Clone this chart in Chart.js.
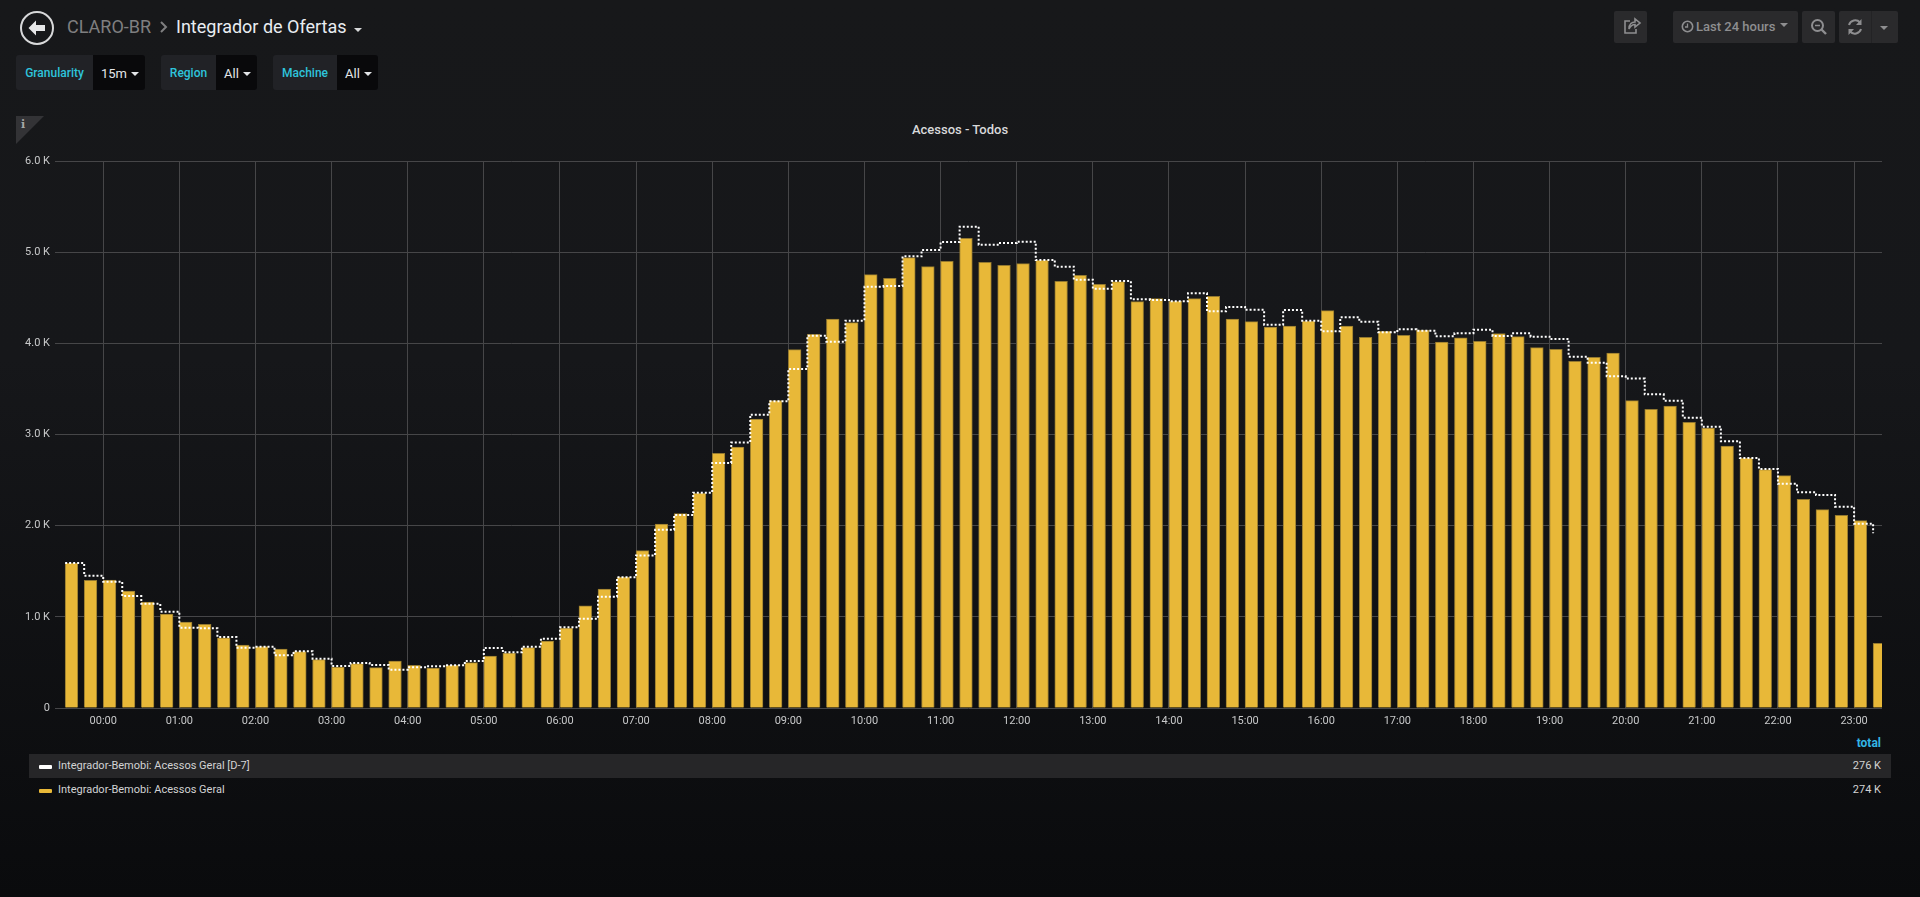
<!DOCTYPE html>
<html>
<head>
<meta charset="utf-8">
<title>Integrador de Ofertas</title>
<script src="https://cdn.jsdelivr.net/npm/chart.js@4"></script>
<style>
    html, body { margin: 0; height: 100%; overflow: hidden; }
    body {
        position: relative;
        width: 1920px;
        height: 897px;
        font-family: Roboto, sans-serif;
        background: linear-gradient(to bottom, #17181a 0, #16171a 40%, #0a0b0d 100%);
    }
    .abs { position: absolute; }
    .crumb { top: 14px; font-size: 18px; line-height: 26px; white-space: nowrap; }
    .var-label, .var-value {
        position: absolute; top: 55px; height: 35px; line-height: 37px;
        box-sizing: border-box; white-space: nowrap;
    }
    .var-label { background: #212226; color: #2ec4dc; font-size: 12px; font-weight: 500; text-align: center; border-radius: 3px 0 0 3px; }
    .var-value { background: #09090b; color: #e3e5e8; font-size: 13px; padding-left: 8px; border-radius: 0 3px 3px 0; }
    .caret { display: inline-block; border: 4px solid transparent; border-top-color: currentColor; border-bottom: 0; margin-left: 4px; vertical-align: 2px; }
    .btn { position: absolute; top: 11px; height: 32px; background: #2a2a2c; border-radius: 2px; color: #8e8e90; box-sizing: border-box; }
    .legend-row { position: absolute; left: 29px; width: 1862px; height: 24px; line-height: 23px; font-size: 11px; color: #d2d3d4; }
    .legend-row .swatch { position: absolute; left: 10px; top: 11px; width: 13px; height: 4px; border-radius: 1px; }
    .legend-row .name { position: absolute; left: 29px; white-space: nowrap; }
    .legend-row .val { position: absolute; right: 10px; }
    #chart-wrap { position: absolute; left: 0; top: 115px; width: 1920px; height: 620px; }
    #panel-title { position: absolute; left: 0; top: 122px; width: 1920px; text-align: center; font-size: 13px; line-height: 16px; font-weight: 500; color: #d8d9da; }
</style>
</head>
<body>

<!-- header -->
<svg class="abs" style="left:19px;top:10px" width="36" height="36" viewBox="0 0 36 36">
    <circle cx="18" cy="18" r="16" fill="none" stroke="#d8d9da" stroke-width="2"/>
    <path d="M9.5 18 L17 10.5 L17 15 L26 15 L26 21 L17 21 L17 25.5 Z" fill="#e6e7e8"/>
</svg>
<div class="abs crumb" style="left:67px;color:#7f7f80">CLARO-BR</div>
<svg class="abs" style="left:159px;top:20px" width="10" height="14" viewBox="0 0 10 14">
    <path d="M2 2 L7 7 L2 12" fill="none" stroke="#7f7f80" stroke-width="2"/>
</svg>
<div class="abs crumb" style="left:176px;color:#e9edf2">Integrador de Ofertas</div>
<div class="abs" style="left:354px;top:28px;border:4px solid transparent;border-top-color:#d8d9da;border-bottom:0"></div>

<!-- template variables -->
<div class="var-label" style="left:16px;width:77px">Granularity</div>
<div class="var-value" style="left:93px;width:52px">15m<span class="caret"></span></div>
<div class="var-label" style="left:161px;width:55px">Region</div>
<div class="var-value" style="left:216px;width:41px">All<span class="caret"></span></div>
<div class="var-label" style="left:273px;width:64px">Machine</div>
<div class="var-value" style="left:337px;width:41px">All<span class="caret"></span></div>

<!-- toolbar -->
<div class="btn" style="left:1614px;width:33px">
    <svg width="33" height="32" viewBox="0 0 33 32"><path d="M16 10 H11 V22 H22 V18 M15 18 C15 13 18 11 21 11 V8 L26 12 L21 16 V13.5 C18.5 13.5 16.5 15 15 18 Z" fill="none" stroke="#8e8e90" stroke-width="1.6"/></svg>
</div>
<div class="btn" style="left:1673px;width:125px;font-size:13px;font-weight:500;line-height:31px">
    <svg class="abs" style="left:8px;top:9px" width="13" height="13" viewBox="0 0 13 13"><circle cx="6.5" cy="6.5" r="5.2" fill="none" stroke="#8e8e90" stroke-width="1.6"/><path d="M6.5 3.5 V7 H4" fill="none" stroke="#8e8e90" stroke-width="1.3"/></svg>
    <span class="abs" style="left:23px;white-space:nowrap">Last 24 hours</span>
    <span class="abs" style="left:107px;top:12px;border:4px solid transparent;border-top-color:#8e8e90;border-bottom:0"></span>
</div>
<div class="btn" style="left:1802px;width:33px">
    <svg width="33" height="32" viewBox="0 0 33 32"><circle cx="15.5" cy="14.5" r="5.5" fill="none" stroke="#8e8e90" stroke-width="2"/><path d="M19.5 18.5 L24 23" stroke="#8e8e90" stroke-width="2.4"/><path d="M13 14.5 H18" stroke="#8e8e90" stroke-width="1.5"/></svg>
</div>
<div class="btn" style="left:1839px;width:59px">
    <svg class="abs" style="left:0;top:0" width="32" height="32" viewBox="0 0 32 32"><path d="M10 14 A6.5 6.5 0 0 1 21 11.5 M22 18 A6.5 6.5 0 0 1 11 20.5" fill="none" stroke="#8e8e90" stroke-width="2"/><path d="M22.5 8 V14 H17 Z M9.5 24 V18 H15 Z" fill="#8e8e90"/></svg>
    <span class="abs" style="left:32px;top:0;width:1px;height:32px;background:#232325"></span>
    <span class="abs" style="left:41px;top:15px;border:4px solid transparent;border-top-color:#8e8e90;border-bottom:0"></span>
</div>

<!-- panel info corner -->
<svg class="abs" style="left:16px;top:116px" width="28" height="28"><path d="M0 0 H28 L0 28 Z" fill="#333336"/></svg>
<div class="abs" style="left:21px;top:118px;font:bold 11px 'DejaVu Serif',serif;color:#a8a8a8">i</div>

<div id="panel-title">Acessos - Todos</div>
<div id="chart-wrap"><canvas id="graph-1" width="1920" height="620"></canvas></div>

<!-- legend -->
<div class="abs" style="right:39px;top:736px;font-size:12px;font-weight:700;color:#33b5e5">total</div>
<div id="legend"></div>

<script>
const slotLabels = [
    "23:30", "23:45",
    "00:00", "00:15", "00:30", "00:45", "01:00", "01:15", "01:30", "01:45",
    "02:00", "02:15", "02:30", "02:45", "03:00", "03:15", "03:30", "03:45",
    "04:00", "04:15", "04:30", "04:45", "05:00", "05:15", "05:30", "05:45",
    "06:00", "06:15", "06:30", "06:45", "07:00", "07:15", "07:30", "07:45",
    "08:00", "08:15", "08:30", "08:45", "09:00", "09:15", "09:30", "09:45",
    "10:00", "10:15", "10:30", "10:45", "11:00", "11:15", "11:30", "11:45",
    "12:00", "12:15", "12:30", "12:45", "13:00", "13:15", "13:30", "13:45",
    "14:00", "14:15", "14:30", "14:45", "15:00", "15:15", "15:30", "15:45",
    "16:00", "16:15", "16:30", "16:45", "17:00", "17:15", "17:30", "17:45",
    "18:00", "18:15", "18:30", "18:45", "19:00", "19:15", "19:30", "19:45",
    "20:00", "20:15", "20:30", "20:45", "21:00", "21:15", "21:30", "21:45",
    "22:00", "22:15", "22:30", "22:45", "23:00", "23:15"
];

const acessosGeral = [
    1590, 1400, 1404, 1283, 1163, 1031, 943, 918, 771, 691,
    673, 647, 618, 530, 450, 486, 442, 515, 468, 439,
    468, 497, 570, 603, 662, 735, 877, 1122, 1305, 1437,
    1726, 2018, 2132, 2355, 2794, 2863, 3170, 3371, 3931, 4099,
    4267, 4227, 4753, 4713, 4940, 4841, 4900, 5152, 4889, 4856,
    4874, 4911, 4680, 4746, 4647, 4676, 4457, 4490, 4461, 4490,
    4516, 4267, 4238, 4179, 4190, 4245, 4358, 4190, 4066, 4132,
    4088, 4146, 4015, 4059, 4022, 4106, 4073, 3953, 3934, 3803,
    3847, 3894, 3371, 3276, 3313, 3134, 3071, 2874, 2742, 2614,
    2549, 2289, 2176, 2113, 2055, 709
];

const acessosGeralD7 = [
    1590, 1451, 1386, 1228, 1144, 1057, 881, 874, 779, 662,
    673, 578, 622, 541, 461, 494, 472, 420, 446, 457,
    468, 515, 658, 611, 673, 760, 885, 980, 1221, 1433,
    1674, 1956, 2117, 2362, 2688, 2911, 3218, 3364, 3719, 4084,
    4018, 4249, 4622, 4629, 4954, 5024, 5112, 5280, 5082, 5101,
    5115, 4914, 4841, 4698, 4600, 4684, 4483, 4475, 4461, 4549,
    4351, 4399, 4369, 4205, 4366, 4249, 4132, 4285, 4238, 4121,
    4154, 4139, 4077, 4110, 4150, 4081, 4110, 4073, 4048, 3854,
    3788, 3638, 3613, 3441, 3371, 3185, 3086, 2925, 2742, 2622,
    2461, 2366, 2336, 2208, 2022, 1916
];

const hourLabels = [
    "00:00", "01:00", "02:00", "03:00", "04:00", "05:00", "06:00", "07:00",
    "08:00", "09:00", "10:00", "11:00", "12:00", "13:00", "14:00", "15:00",
    "16:00", "17:00", "18:00", "19:00", "20:00", "21:00", "22:00", "23:00"
];

const yTickLabels = ["0", "1.0 K", "2.0 K", "3.0 K", "4.0 K", "5.0 K", "6.0 K"];

const seriesNames = ["Integrador-Bemobi: Acessos Geral [D-7]", "Integrador-Bemobi: Acessos Geral"];
const seriesTotals = ["276 K", "274 K"];
const seriesColors = ["#ffffff", "#e8b838"];

// minutes since midnight, the first two slots belong to the day before
function toMinutes(label, index) {
    const parts = label.split(":");
    const minutes = Number(parts[0]) * 60 + Number(parts[1]);
    return index < 2 ? minutes - 1440 : minutes;
}

const slotMinutes = slotLabels.map(toMinutes);
const barMinutes = 10; // bars fill 2/3 of a slot and start at the slot time

const chart = new Chart(document.getElementById("graph-1"), {
    data: {
        datasets: [
            {
                type: "line",
                label: seriesNames[0],
                data: slotMinutes.map((m, i) => ({ x: m, y: acessosGeralD7[i] })),
                borderColor: "#ffffff",
                borderWidth: 2,
                borderDash: [2, 2],
                stepped: true,
                pointRadius: 0,
                fill: false,
                order: 0
            },
            {
                type: "bar",
                label: seriesNames[1],
                data: slotMinutes.map((m, i) => ({ x: m + barMinutes / 2, y: acessosGeral[i] })),
                backgroundColor: "#e8b838",
                borderColor: "#94792f",
                borderWidth: 1,
                barThickness: 12.7,
                order: 1
            }
        ]
    },
    options: {
        responsive: false,
        animation: false,
        layout: { padding: { left: 0, right: 38, top: 46, bottom: 0 } },
        plugins: {
            legend: { display: false },
            tooltip: { enabled: false }
        },
        scales: {
            x: {
                type: "linear",
                offset: false,
                min: -38,
                max: 1402,
                afterBuildTicks: scale => {
                    scale.ticks = hourLabels.map((h, i) => ({ value: i * 60 }));
                },
                afterFit: scale => { scale.height = 27; },
                grid: { color: "#464648", drawTicks: false, offset: false },
                border: { display: false },
                ticks: {
                    autoSkip: false,
                    maxRotation: 0,
                    padding: 7,
                    color: "#c8c9ca",
                    font: { family: "Roboto", size: 11 },
                    callback: value => hourLabels[value / 60]
                }
            },
            y: {
                min: 0,
                max: 6000,
                afterFit: scale => { scale.width = 55; },
                grid: { color: "#464648", drawTicks: false },
                border: { display: false },
                ticks: {
                    stepSize: 1000,
                    padding: 5,
                    color: "#c8c9ca",
                    font: { family: "Roboto", size: 11 },
                    callback: value => yTickLabels[value / 1000]
                }
            }
        }
    }
});

// legend table under the graph
const legend = document.getElementById("legend");
seriesNames.forEach((name, i) => {
    const row = document.createElement("div");
    row.className = "legend-row";
    row.style.top = (754 + i * 24) + "px";
    if (i === 0) row.style.background = "#262628";
    row.innerHTML = `<span class="swatch" style="background:${seriesColors[i]}"></span>` +
        `<span class="name">${name}</span><span class="val">${seriesTotals[i]}</span>`;
    legend.appendChild(row);
});
</script>
</body>
</html>
